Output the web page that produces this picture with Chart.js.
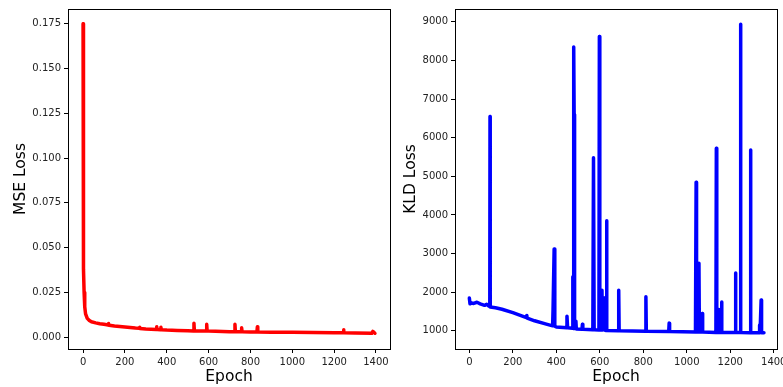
<!DOCTYPE html>
<html>
<head>
<meta charset="utf-8">
<script src="https://cdn.jsdelivr.net/npm/chart.js@4"></script>
<style>
  body { margin: 0; background: #fff; overflow: hidden; }
  #wrap { position: relative; width: 783px; height: 387px; overflow: hidden; }
  canvas { position: absolute; top: 0; }
</style>
</head>
<body>
<div id="wrap">
  <canvas id="chart_mse" width="400" height="387" style="left:0"></canvas>
  <canvas id="chart_kld" width="400" height="387" style="left:400px"></canvas>
</div>
<script>
// 横軸の目盛
const xTicks = [0, 200, 400, 600, 800, 1000, 1200, 1400];
const mseTicks = [0, 0.025, 0.05, 0.075, 0.1, 0.125, 0.15, 0.175];
const kldTicks = [1000, 2000, 3000, 4000, 5000, 6000, 7000, 8000, 9000];

// MSE Loss
const mseEpochs = [0, 1, 2, 3, 5, 8, 12, 20, 30, 40, 60, 80, 100, 120, 122, 124, 150, 200, 250, 268, 270, 272,
  300, 350, 352, 354, 370, 372, 374, 400, 450, 500, 528, 530, 532, 589, 591, 593, 600, 700, 724, 726, 728,
  756, 758, 760, 800, 831, 833, 835, 900, 1000, 1100, 1200, 1243, 1245, 1247, 1300, 1380, 1385, 1395];
const mseValues = [0.175, 0.09, 0.055, 0.038, 0.025, 0.017, 0.013, 0.0105, 0.0093, 0.0086, 0.0080, 0.0075, 0.0072, 0.0068, 0.0076, 0.0067, 0.0063, 0.0057, 0.0051, 0.0050, 0.0056, 0.0049,
  0.0046, 0.0043, 0.0058, 0.0043, 0.0042, 0.0055, 0.0042, 0.0040, 0.0038, 0.0036, 0.0035, 0.0078, 0.0035, 0.0034, 0.0072, 0.0034, 0.0034, 0.0031, 0.0031, 0.0072, 0.0031,
  0.0030, 0.0052, 0.0030, 0.0029, 0.0029, 0.0058, 0.0029, 0.0028, 0.0027, 0.0026, 0.0025, 0.0025, 0.0042, 0.0025, 0.0023, 0.0022, 0.0032, 0.0022];

// KLD Loss
const kldEpochs = [0, 3, 10, 20, 35, 50, 70, 80, 90, 94, 95, 96, 120, 150, 200, 250, 263, 264, 266, 300, 350, 383, 385, 390, 393,
  400, 448, 449, 452, 474, 476, 478, 480, 482, 484, 490, 492, 518, 520, 522, 568, 571, 574, 596, 598, 600, 608, 610, 612,
  620, 622, 629, 631, 633, 685, 687, 689, 810, 812, 814, 917, 919, 921, 1040, 1043, 1045, 1054, 1056, 1058, 1069, 1071, 1073,
  1134, 1136, 1138, 1146, 1148, 1150, 1158, 1160, 1162, 1222, 1224, 1226, 1245, 1247, 1249, 1291, 1293, 1295,
  1333, 1335, 1337, 1340, 1342, 1344, 1355];
const kldValues = [1850, 1700, 1720, 1710, 1740, 1700, 1660, 1690, 1640, 1640, 6550, 1620, 1600, 1560, 1470, 1370, 1340, 1400, 1330, 1260, 1180, 1130, 1550, 3120, 1120,
  1100, 1080, 1380, 1080, 1070, 2400, 1060, 8350, 6600, 1060, 1250, 1050, 1040, 1170, 1040, 1030, 5480, 1030, 1020, 8620, 1020, 1020, 2050, 1020,
  1850, 1020, 1010, 3850, 1010, 1000, 2050, 1000, 990, 1880, 990, 985, 1200, 985, 970, 4850, 970, 970, 2750, 970, 970, 1450, 970,
  960, 5730, 960, 960, 1550, 960, 960, 1750, 960, 955, 2500, 955, 955, 8940, 955, 950, 5680, 950,
  950, 1150, 950, 950, 1800, 950, 950];

const FONT = 'DejaVu Sans';

// 枠線(上下左右)を描くプラグイン
const frame = {
  id: 'frame',
  afterDraw(chart) {
    const { ctx, chartArea: a } = chart;
    ctx.save();
    ctx.strokeStyle = '#000';
    ctx.lineWidth = 1;
    ctx.strokeRect(Math.round(a.left) + 0.5, Math.round(a.top) + 0.5, Math.round(a.right - a.left), Math.round(a.bottom - a.top));
    ctx.restore();
  }
};

function makeConfig(epochs, values, color, yTicks, yMin, yMax, xMin, xMax, yTitle, yWidth, yFmt, padRight, titlePad) {
  return {
    type: 'line',
    data: {
      datasets: [{
        data: epochs.map((e, i) => ({ x: e, y: values[i] })),
        borderColor: color,
        borderWidth: 3.5,
        pointRadius: 0,
        tension: 0,
        borderJoinStyle: 'round',
        borderCapStyle: 'round',
      }]
    },
    options: {
      responsive: false,
      animation: false,
      layout: { padding: { top: 6, right: padRight, left: 0, bottom: 0 } },
      plugins: { legend: { display: false }, tooltip: { enabled: false } },
      scales: {
        x: {
          type: 'linear',
          min: xMin,
          max: xMax,
          afterBuildTicks: (axis) => { axis.ticks = xTicks.map(v => ({ value: v })); },
          afterFit: (axis) => { axis.height = 38; },
          grid: { drawOnChartArea: false, drawTicks: true, tickLength: 4, color: '#000' },
          border: { color: '#000' },
          ticks: { color: '#222', font: { family: FONT, size: 10 }, padding: 3, maxRotation: 0, autoSkip: false, callback: v => String(v) },
          title: { display: true, text: 'Epoch', color: '#000', font: { family: FONT, size: 15.5 }, padding: { top: 0, bottom: 1 } },
        },
        y: {
          type: 'linear',
          min: yMin,
          max: yMax,
          afterBuildTicks: (axis) => { axis.ticks = yTicks.map(v => ({ value: v })); },
          afterFit: (axis) => { axis.width = yWidth; },
          grid: { drawOnChartArea: false, drawTicks: true, tickLength: 4, color: '#000' },
          border: { color: '#000' },
          ticks: { color: '#222', font: { family: FONT, size: 10 }, padding: 3, callback: yFmt },
          title: { display: true, text: yTitle, color: '#000', font: { family: FONT, size: 15.5 }, padding: { top: titlePad, bottom: 0 } },
        }
      }
    },
    plugins: [frame]
  };
}

new Chart(document.getElementById('chart_mse'),
  makeConfig(mseEpochs, mseValues, 'rgb(255,0,0)', mseTicks, -0.0066, 0.1833, -72, 1467, 'MSE Loss', 68, v => v.toFixed(3), 10, 12));

new Chart(document.getElementById('chart_kld'),
  makeConfig(kldEpochs, kldValues, 'rgb(0,0,255)', kldTicks, 530, 9334, -66, 1415, 'KLD Loss', 55, v => String(v), 23, 2));
</script>
</body>
</html>
